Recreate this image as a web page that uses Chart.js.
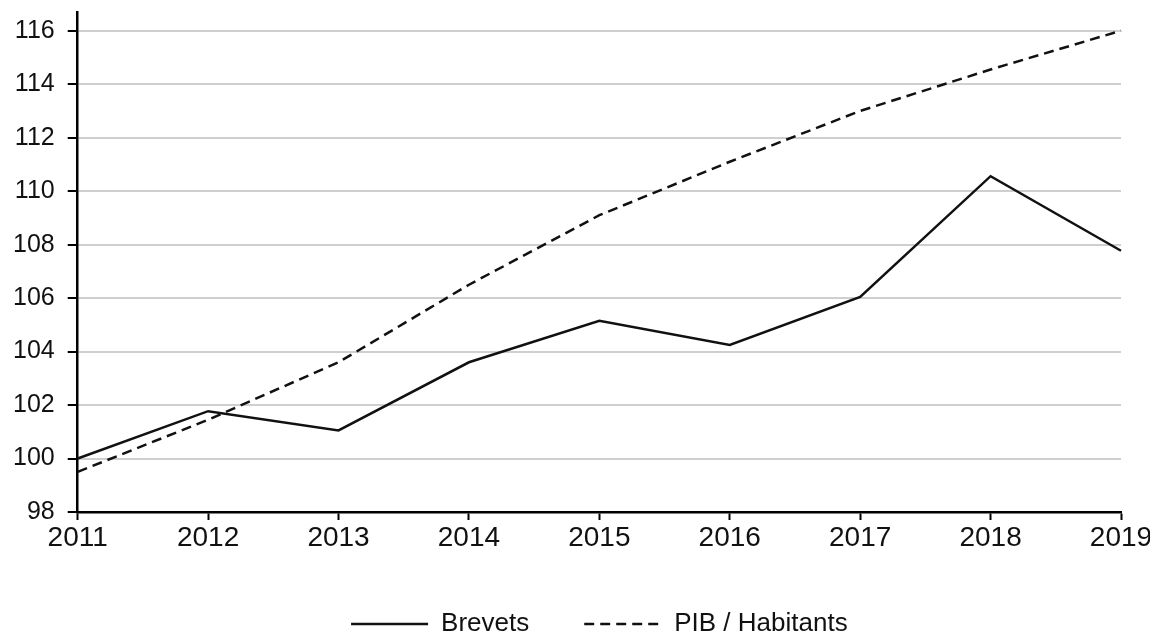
<!DOCTYPE html>
<html>
<head>
<meta charset="utf-8">
<script src="https://cdn.jsdelivr.net/npm/chart.js@4/dist/chart.umd.min.js"></script>
<style>
  html, body { margin: 0; padding: 0; background: #fff; }
  #wrap { width: 1150px; height: 634px; }
</style>
</head>
<body>
<div id="wrap"><canvas id="chart"></canvas></div>
<script>
// years on the x axis
var years = ['2011', '2012', '2013', '2014', '2015', '2016', '2017', '2018', '2019'];
// index values
var brevets = [100, 101.77, 101.05, 103.6, 105.15, 104.25, 106.04, 110.56, 107.77];
var pibHabitants = [99.5, 101.45, 103.6, 106.5, 109.1, 111.1, 113.0, 114.55, 116.0];
var yTicks = [98, 100, 102, 104, 106, 108, 110, 112, 114, 116];

var font = "'Liberation Sans', Arial, sans-serif";

// the legend sits low with wide gaps between its items: keep its box short
var legendBoxHeight = {
    id: 'legendBoxHeight',
    afterInit: function(chart) {
        var legend = chart.legend;
        if (!legend) return;
        var fit = legend.fit;
        legend.fit = function() {
            fit.call(this);
            this.height = 78;
        };
    }
};

new Chart(document.getElementById('chart'), {
    type: 'line',
    data: {
        labels: years,
        datasets: [{
            label: 'Brevets',
            data: brevets,
            borderColor: '#111',
            backgroundColor: '#111',
            borderWidth: 2.5,
            pointRadius: 0,
            tension: 0
        }, {
            label: 'PIB / Habitants',
            data: pibHabitants,
            borderColor: '#111',
            backgroundColor: '#111',
            borderWidth: 2.5,
            borderDash: [10, 6],
            pointRadius: 0,
            tension: 0
        }]
    },
    plugins: [legendBoxHeight],
    options: {
        responsive: true,
        maintainAspectRatio: false,
        animation: false,
        layout: { padding: 0 },
        plugins: {
            tooltip: { enabled: false },
            legend: {
                position: 'bottom',
                fullSize: false,
                labels: {
                    usePointStyle: true,
                    pointStyle: 'line',
                    pointStyleWidth: 77,
                    padding: 55,
                    color: '#111',
                    font: { family: font, size: 26 },
                    generateLabels: function(chart) {
                        var items = Chart.defaults.plugins.legend.labels.generateLabels(chart);
                        items.forEach(function(it) {
                            var ds = chart.data.datasets[it.datasetIndex];
                            it.lineDash = ds.borderDash || [];
                            it.lineWidth = ds.borderWidth;
                            it.strokeStyle = ds.borderColor;
                        });
                        return items;
                    }
                }
            }
        },
        scales: {
            x: {
                type: 'category',
                offset: false,
                afterFit: function(scale) { scale.paddingRight = 29; },
                border: { color: '#000', width: 2.5 },
                grid: { drawOnChartArea: false, drawTicks: true, tickLength: 8, tickColor: '#000', tickWidth: 2 },
                ticks: { color: '#111', padding: 4, maxRotation: 0, font: { family: font, size: 28, lineHeight: 1 } }
            },
            y: {
                min: 98,
                max: 116.7,
                afterBuildTicks: function(scale) {
                    scale.ticks = yTicks.map(function(v) { return { value: v }; });
                },
                afterFit: function(scale) { scale.paddingTop = 12; },
                border: { color: '#000', width: 2.5 },
                grid: { color: '#cfcfcf', lineWidth: 2, tickLength: 10, tickColor: '#000', tickWidth: 2 },
                ticks: { color: '#111', padding: 13, font: { family: font, size: 25, lineHeight: 1 } }
            }
        }
    }
});
</script>
</body>
</html>
